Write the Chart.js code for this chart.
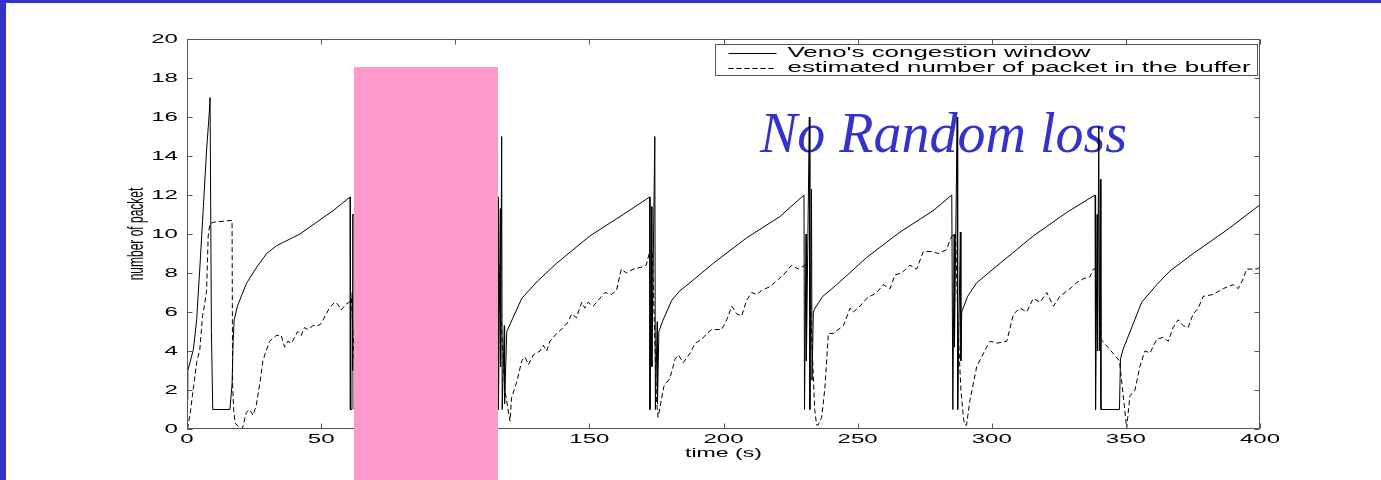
<!DOCTYPE html>
<html>
<head>
<meta charset="utf-8">
<script src="https://cdn.jsdelivr.net/npm/chart.js@4.4.0/dist/chart.umd.min.js"></script>
<style>
    html, body { margin: 0; padding: 0; background: #fff; }
    #page { position: relative; width: 1381px; height: 480px; overflow: hidden; background: #fff; }
    .bar { position: absolute; background: #3333cc; }
    #caption {
        position: absolute; left: 760px; top: 105px; z-index: 1;
        font: italic 56px "Liberation Serif", serif; line-height: 1;
        color: #3333cc; white-space: nowrap;
    }
    #plot { position: absolute; left: 0; top: 0; z-index: 2; }
    #cover { position: absolute; left: 354px; top: 67px; width: 144px; height: 413px; background: #fe99cb; z-index: 3; }
</style>
</head>
<body>
<div id="page">
    <div class="bar" style="left:0;top:0;width:1381px;height:3px;"></div>
    <div class="bar" style="left:0;top:0;width:6px;height:480px;"></div>
    <div id="caption">No Random loss</div>
    <canvas id="plot" width="1381" height="480"></canvas>
    <div id="cover"></div>
</div>
<script>
// time (s) / packets
const cwndPoints = [
    [0, 1.5], [0.3, 3.0], [1.1, 3.4], [2.4, 4.1], [3.6, 5.6], [4.8, 8.3], [6.1, 11.4], [7.3, 14.3], [8.3, 16.2], [8.6, 17],
    [8.8, 17], [9.1, 5], [9.3, 5], [9.6, 1], [16.0, 1], [16.8, 2.3], [17.2, 4.5], [17.6, 5.6], [18.8, 6.3], [20.5, 6.9],
    [22.3, 7.5], [26, 8.3], [29.7, 9.0], [33.4, 9.4], [42.1, 10.0], [54.5, 11.2], [60.8, 11.9],
    [60.9, 1], [61.5, 1], [61.6, 7], [61.7, 3], [61.8, 11], [62.3, 11], [62.4, 1], [63.2, 15], [63.3, 1], [64, 5.5], [64.1, 1],
    [64.6, 5], [69, 6.7], [82, 8.5], [95, 9.9], [107, 11], [116.0, 11.9],
    [116.1, 1], [116.8, 11.3], [116.9, 3.2], [117.3, 15], [117.5, 1], [118.3, 5.3], [118.4, 1.3], [119.2, 5],
    [124.8, 6.7], [130.8, 7.6], [137.8, 8.5], [150.2, 9.9], [162.6, 11.0], [172.5, 11.9],
    [172.6, 1], [173.2, 11.4], [173.3, 3.2], [174.4, 15], [174.6, 1], [175.3, 5.5], [175.4, 1.3], [175.9, 5.0],
    [177.5, 5.6], [180.7, 6.6], [183.8, 7.1], [187.5, 7.5], [196.2, 8.5], [208.6, 9.8], [221.1, 10.9], [230.0, 12.0],
    [230.2, 1], [230.8, 10.0], [230.9, 3.5], [232.0, 16], [232.2, 1], [232.8, 12.3], [233.0, 2.5], [233.5, 6.0],
    [234.1, 6.2], [237, 6.8], [242.2, 7.4], [253.4, 8.8], [265.8, 10.1], [278.2, 11.2], [285.1, 12.0],
    [285.5, 1], [286.0, 10], [286.1, 4.2], [287.1, 16], [287.3, 1], [288.3, 10.1], [288.5, 3.5], [288.8, 6.0],
    [291, 6.8], [294.4, 7.5], [303.1, 8.5], [315.5, 9.9], [327.9, 11.1], [338.5, 12.0],
    [338.7, 1], [339.3, 11], [339.4, 4], [339.9, 15.5], [340.1, 4.0], [340.5, 12.8], [340.7, 1], [347.6, 1],
    [348.0, 3.6], [349, 4.1], [355.9, 6.5], [361.5, 7.4], [366.4, 8.1], [375.1, 9.0], [387.6, 10.2], [400, 11.5]
];
const bufferPoints = [
    [0.2, 0], [1.4, 1.0], [2.0, 1.7], [3.6, 3.4], [4.8, 4.1], [5.8, 5.8], [6.7, 6.5], [7.3, 7.1], [7.9, 9.9], [8.5, 10.5],
    [9.7, 10.6], [16.8, 10.7], [17.0, 2.3], [17.4, 1.0], [17.9, 0.3], [19.0, 0.15], [20.2, 0], [20.8, 0.1], [22.1, 0.85],
    [23.3, 1.0], [24.6, 0.7], [25.8, 1.2], [27.1, 2.3], [28.3, 3.5], [29.5, 4.0], [30.8, 4.5], [33.3, 4.8], [35.1, 4.8],
    [36.4, 4.2], [37.6, 4.5], [38.9, 4.4], [40.1, 4.7], [41.3, 5.0], [42.6, 4.8], [43.8, 5.2], [45.1, 5.1], [46.9, 5.3],
    [48.8, 5.3], [50.0, 5.4], [51.9, 5.9], [53.1, 6.2], [55.0, 6.5], [56.2, 6.4], [57.4, 6.1], [59.3, 6.4], [60.5, 6.5],
    [61.3, 6.7], [62.5, 3], [63.5, 0.5], [64.5, 0.2], [66, 1.8], [68, 3.0], [72, 3.8], [78, 4.6], [85, 5.5], [92, 6.3],
    [100, 7.0], [108, 7.8], [114, 8.2], [115.8, 8.4],
    [116.3, 8.4], [117.3, 5], [118.5, 2], [120.4, 0.4], [121, 1.6], [122.9, 2.4], [124.8, 3.5], [126, 3.7], [127.3, 3.3],
    [129.1, 3.8], [131.6, 4.0], [132.8, 4.3], [134.1, 4.0], [135.3, 4.5], [137.8, 4.9], [140.3, 5.2], [142.1, 5.5],
    [143.4, 5.9], [145.2, 5.7], [147.1, 6.5], [148.3, 6.2], [149.5, 6.5], [151.4, 6.3], [153.9, 6.7], [155.8, 7.0],
    [158.2, 6.9], [160.1, 7.1], [161.9, 8.2], [163.8, 8.0], [166.3, 8.2], [169.4, 8.3], [171.2, 8.4], [172.3, 9.0],
    [173.5, 9.0], [174.5, 4], [175.0, 1.5], [175.6, 0.6], [177.8, 2.2], [180.0, 2.6], [182.0, 3.6], [183.2, 3.8],
    [185.0, 3.4], [187.6, 3.9], [189.4, 4.4], [191.9, 4.6], [193.8, 4.9], [195.6, 5.1], [199.3, 5.1], [201.2, 5.6],
    [203.1, 6.3], [204.9, 5.9], [206.8, 5.8], [208.6, 6.6], [210.5, 7.0], [212.4, 6.9], [214.2, 7.1], [217.3, 7.3],
    [219.8, 7.6], [222.3, 7.9], [225.4, 8.4], [227.9, 8.2], [230.4, 8.4], [232.2, 8.4],
    [232.8, 5], [234.0, 1.0], [234.7, 0.2], [235.3, 0.2], [236.6, 0.6], [237.8, 2.1], [239.1, 4.9], [240.9, 4.9],
    [244.7, 5.3], [247.2, 6.2], [248.4, 6.0], [250.9, 6.3], [253.4, 6.7], [257.1, 7.0], [259.6, 7.4], [262.1, 7.2],
    [263.9, 7.9], [266.4, 8.0], [269.5, 8.4], [272.0, 8.2], [274.5, 9.1], [277.6, 9.1], [280.1, 9.0], [283.2, 9.2],
    [284.4, 9.7], [285.7, 10.0],
    [286.5, 10], [287.5, 5], [288.5, 2], [289.5, 0.5], [290.0, 0.2], [290.6, 0.2], [291.9, 1.5], [294.4, 3.2],
    [298.1, 4.2], [299.4, 4.5], [301.9, 4.4], [305.6, 4.5], [308.1, 5.9], [310.6, 6.2], [313.0, 6.0], [315.5, 6.7],
    [318.0, 6.5], [320.5, 7.0], [323.0, 6.3], [325.4, 6.8], [329.2, 7.2], [331.6, 7.5], [334.1, 7.7], [336.6, 7.8],
    [337.9, 8.2], [340.5, 8.3],
    [340.7, 4.6], [347.6, 3.5], [350.3, 0.05], [351.5, 1.7], [353.4, 2.0], [355.2, 3.2], [357.1, 4.0], [359.0, 3.9],
    [361.5, 4.6], [363.9, 4.7], [365.8, 4.5], [367.6, 5.2], [369.5, 5.6], [371.4, 5.3], [373.2, 5.2], [375.1, 5.9],
    [377.0, 6.2], [378.8, 6.8], [382.5, 6.9], [386.3, 7.2], [390.0, 7.4], [391.9, 7.2], [393.7, 7.7], [395.0, 8.2],
    [398.7, 8.2], [400, 8.3]
];
const timeTicks = [0, 50, 100, 150, 200, 250, 300, 350, 400];
const packetTicks = [0, 2, 4, 6, 8, 10, 12, 14, 16, 18, 20];
const seriesLabels = ["Veno's congestion window", 'estimated number of packet in the buffer'];

// the old figure was stretched sideways, so text is too
const STRETCH = 1.85;

const canvas = document.getElementById('plot');
const ctx = canvas.getContext('2d');
const rawFillText = ctx.fillText;
ctx.fillText = function (text, x, y) {
    const m = this.getTransform();
    this.save();
    this.translate(x, y);
    if (Math.abs(m.b) > 0.5) this.scale(1, STRETCH); else this.scale(STRETCH, 1);
    rawFillText.call(this, text, 0, 0);
    this.restore();
};

// matlab style box: inward ticks on all four sides, plus legend box
const boxAndLegend = {
    id: 'boxAndLegend',
    afterDatasetsDraw(chart) {
        const { ctx, chartArea: a, scales: { x, y } } = chart;
        const L = Math.round(a.left) + 0.5, R = Math.round(a.right) - 0.5;
        const T = Math.round(a.top) + 0.5, B = Math.round(a.bottom) - 0.5;
        ctx.save();
        ctx.strokeStyle = '#555';
        ctx.lineWidth = 1;
        ctx.setLineDash([]);
        ctx.strokeRect(L, T, R - L, B - T);
        ctx.beginPath();
        x.ticks.forEach(t => {
            const px = Math.round(x.getPixelForValue(t.value)) + 0.5;
            ctx.moveTo(px, B); ctx.lineTo(px, B - 5);
            ctx.moveTo(px, T); ctx.lineTo(px, T + 5);
        });
        y.ticks.forEach(t => {
            const py = Math.round(y.getPixelForValue(t.value)) + 0.5;
            ctx.moveTo(L, py); ctx.lineTo(L + 5, py);
            ctx.moveTo(R, py); ctx.lineTo(R - 5, py);
        });
        ctx.stroke();

        // legend
        const lx = 715.5, ly = T + 5, lw = R - 2 - lx, lh = 31;
        ctx.fillStyle = '#fff';
        ctx.fillRect(lx, ly, lw, lh);
        ctx.strokeStyle = '#555';
        ctx.strokeRect(lx, ly, lw, lh);
        ctx.font = '14px "Liberation Sans", Arial, sans-serif';
        ctx.textBaseline = 'middle';
        ctx.textAlign = 'left';
        chart.data.datasets.forEach((ds, i) => {
            const rowY = Math.round(ly + 8 + i * 15) + 0.5;
            ctx.strokeStyle = '#000';
            ctx.setLineDash(ds.borderDash || []);
            ctx.beginPath();
            ctx.moveTo(lx + 13, rowY); ctx.lineTo(lx + 61, rowY);
            ctx.stroke();
            ctx.fillStyle = '#000';
            ctx.fillText(ds.label, lx + 72, rowY);
        });
        ctx.restore();
    }
};

const toXY = pts => pts.map(([t, v]) => ({ x: t, y: v }));

new Chart(ctx, {
    type: 'line',
    data: {
        datasets: [
            {
                label: seriesLabels[0],
                data: toXY(cwndPoints),
                borderColor: '#000',
                borderWidth: 1,
                pointRadius: 0,
                tension: 0
            },
            {
                label: seriesLabels[1],
                data: toXY(bufferPoints),
                borderColor: '#000',
                borderWidth: 1,
                borderDash: [5, 3],
                pointRadius: 0,
                tension: 0
            }
        ]
    },
    options: {
        responsive: false,
        animation: false,
        devicePixelRatio: 1,
        layout: { padding: { top: 39, right: 121, left: 0, bottom: 0 } },
        plugins: { legend: { display: false }, tooltip: { enabled: false } },
        scales: {
            x: {
                type: 'linear',
                min: 0, max: 400,
                afterBuildTicks: s => { s.ticks = timeTicks.map(v => ({ value: v })); },
                afterFit: s => { s.height = 51; },
                grid: { display: false, drawTicks: false },
                border: { display: false },
                ticks: { color: '#000', padding: 3, maxRotation: 0, autoSkip: false,
                         font: { family: '"Liberation Sans", Arial, sans-serif', size: 13 } },
                title: { display: true, text: 'time (s)', color: '#000',
                         font: { family: '"Liberation Sans", Arial, sans-serif', size: 12.5 },
                         padding: { top: 0, bottom: 19 } }
            },
            y: {
                min: 0, max: 20,
                afterBuildTicks: s => { s.ticks = packetTicks.map(v => ({ value: v })); },
                afterFit: s => { s.width = 187; },
                grid: { display: false, drawTicks: false },
                border: { display: false },
                ticks: { color: '#000', padding: 9, autoSkip: false,
                         font: { family: '"Liberation Sans", Arial, sans-serif', size: 13 } },
                title: { display: true, text: 'number of packet', color: '#000',
                         font: { family: '"Liberation Sans", Arial, sans-serif', size: 12 },
                         padding: { top: 130, bottom: 0 } }
            }
        }
    },
    plugins: [boxAndLegend]
});
</script>
</body>
</html>
